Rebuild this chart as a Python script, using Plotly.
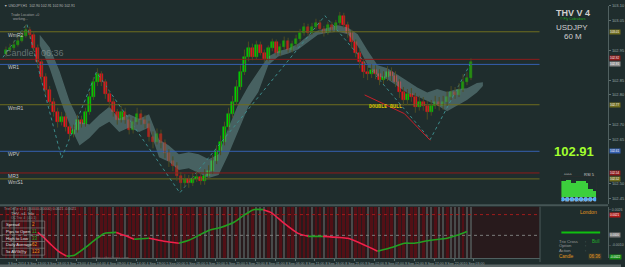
import plotly.graph_objects as go

W, H = 625, 267


def px(x):
    return x / W


def py(y):
    return 1 - y / H


# ------------------------------------------------------------------ data
opens = [102.937, 102.950, 102.960, 102.970, 102.983, 103.000, 103.020, 103.003, 102.960, 102.910,
         102.860, 102.817, 102.777, 102.743, 102.710, 102.727, 102.693, 102.670, 102.683, 102.717,
         102.703, 102.743, 102.793, 102.843, 102.870, 102.843, 102.803, 102.777, 102.743, 102.717,
         102.743, 102.717, 102.683, 102.710, 102.737, 102.717, 102.703, 102.660, 102.643, 102.670,
         102.637, 102.603, 102.577, 102.560, 102.527, 102.503, 102.517, 102.503, 102.517, 102.523,
         102.510, 102.527, 102.543, 102.577, 102.610, 102.643, 102.693, 102.737, 102.777, 102.827,
         102.877, 102.927, 102.960, 102.927, 102.970, 102.943, 102.923, 102.957, 102.977, 102.943,
         102.963, 102.983, 102.953, 102.973, 102.990, 103.010, 103.030, 103.010, 103.030, 103.043,
         103.023, 103.010, 103.037, 103.020, 103.043, 103.067, 103.037, 103.010, 102.977, 102.943,
         102.910, 102.877, 102.870, 102.883, 102.870, 102.850, 102.860, 102.877, 102.863, 102.843,
         102.810, 102.783, 102.803, 102.793, 102.760, 102.777, 102.763, 102.743, 102.763, 102.777,
         102.763, 102.777, 102.793, 102.810, 102.800, 102.817, 102.843, 102.857]
closes = [102.950, 102.960, 102.970, 102.983, 103.000, 103.020, 103.003, 102.960, 102.910, 102.860,
          102.817, 102.777, 102.743, 102.710, 102.727, 102.693, 102.670, 102.683, 102.717, 102.703,
          102.743, 102.793, 102.843, 102.870, 102.843, 102.803, 102.777, 102.743, 102.717, 102.743,
          102.717, 102.683, 102.710, 102.737, 102.717, 102.703, 102.660, 102.643, 102.670, 102.637,
          102.603, 102.577, 102.560, 102.527, 102.503, 102.517, 102.503, 102.517, 102.523, 102.510,
          102.527, 102.543, 102.577, 102.610, 102.643, 102.693, 102.737, 102.777, 102.827, 102.877,
          102.927, 102.960, 102.927, 102.970, 102.943, 102.923, 102.957, 102.977, 102.943, 102.963,
          102.983, 102.953, 102.973, 102.990, 103.010, 103.030, 103.010, 103.030, 103.043, 103.023,
          103.010, 103.037, 103.020, 103.043, 103.067, 103.037, 103.010, 102.977, 102.943, 102.910,
          102.877, 102.870, 102.883, 102.870, 102.850, 102.860, 102.877, 102.863, 102.843, 102.810,
          102.783, 102.803, 102.793, 102.760, 102.777, 102.763, 102.743, 102.763, 102.777, 102.763,
          102.777, 102.793, 102.810, 102.800, 102.817, 102.843, 102.857, 102.910]
highs = [102.963, 102.973, 102.983, 103.000, 103.017, 103.037, 103.030, 103.013, 102.970, 102.920,
         102.873, 102.830, 102.790, 102.757, 102.743, 102.740, 102.703, 102.700, 102.733, 102.730,
         102.757, 102.810, 102.860, 102.890, 102.880, 102.853, 102.817, 102.790, 102.753, 102.763,
         102.757, 102.727, 102.723, 102.757, 102.750, 102.733, 102.713, 102.677, 102.687, 102.683,
         102.650, 102.617, 102.593, 102.573, 102.540, 102.533, 102.530, 102.537, 102.543, 102.540,
         102.550, 102.563, 102.597, 102.630, 102.663, 102.710, 102.757, 102.797, 102.850, 102.900,
         102.953, 102.980, 102.973, 102.983, 102.980, 102.953, 102.967, 102.990, 102.987, 102.973,
         102.997, 102.993, 102.983, 103.003, 103.023, 103.043, 103.040, 103.043, 103.057, 103.053,
         103.033, 103.047, 103.047, 103.053, 103.080, 103.077, 103.047, 103.020, 102.987, 102.957,
         102.920, 102.897, 102.903, 102.900, 102.887, 102.880, 102.897, 102.893, 102.880, 102.853,
         102.827, 102.820, 102.823, 102.807, 102.797, 102.793, 102.780, 102.783, 102.797, 102.793,
         102.797, 102.813, 102.830, 102.827, 102.840, 102.870, 102.877, 102.923]
lows = [102.927, 102.943, 102.950, 102.963, 102.977, 102.993, 102.990, 102.947, 102.893, 102.843,
        102.800, 102.760, 102.727, 102.690, 102.697, 102.677, 102.650, 102.657, 102.673, 102.690,
        102.693, 102.733, 102.783, 102.830, 102.830, 102.787, 102.757, 102.727, 102.700, 102.707,
        102.703, 102.667, 102.670, 102.700, 102.700, 102.687, 102.643, 102.620, 102.633, 102.620,
        102.587, 102.557, 102.543, 102.510, 102.480, 102.490, 102.487, 102.493, 102.507, 102.497,
        102.497, 102.517, 102.533, 102.567, 102.597, 102.630, 102.680, 102.723, 102.767, 102.817,
        102.867, 102.913, 102.917, 102.920, 102.933, 102.910, 102.913, 102.947, 102.933, 102.930,
        102.953, 102.943, 102.943, 102.963, 102.980, 103.000, 103.000, 103.003, 103.020, 103.013,
        102.997, 103.003, 103.010, 103.013, 103.033, 103.027, 102.993, 102.957, 102.927, 102.890,
        102.857, 102.850, 102.857, 102.853, 102.833, 102.837, 102.847, 102.847, 102.827, 102.790,
        102.763, 102.767, 102.777, 102.740, 102.747, 102.747, 102.717, 102.730, 102.753, 102.747,
        102.750, 102.763, 102.783, 102.787, 102.793, 102.810, 102.833, 102.850]

level_names = ["WmR2", "", "WR1", "WmR1", "WPV", "MR3", "WmS1"]
level_values = [103.013, 102.920, 102.903, 102.767, 102.610, 102.537, 102.517]
level_kinds = ["olive", "red", "blue", "olive", "blue", "red", "olive"]

cloud_x = [8.5, 11, 13.5, 16, 18.5, 21, 23.5, 26, 28.5, 31, 33.5, 36, 38.5, 41, 43.5, 46, 48.5, 51,
           53.5, 56, 58.5, 61, 63.5, 66, 68.5, 71, 73.5, 76, 78.5, 81, 83.5, 86, 88.5, 91, 93.5, 96,
           98.5, 101, 103.5, 106, 108.5, 111, 113.5, 116, 118.5, 120]
cloud_top = [103.003, 102.960, 102.880, 102.780, 102.710, 102.700, 102.733, 102.760, 102.720, 102.735,
             102.720, 102.735, 102.650, 102.630, 102.600, 102.607, 102.600, 102.583, 102.600, 102.690,
             102.770, 102.830, 102.880, 102.930, 102.947, 102.957, 102.973, 103.000, 103.017, 103.027,
             103.035, 103.027, 103.005, 102.950, 102.900, 102.890, 102.867, 102.847, 102.825, 102.808,
             102.820, 102.810, 102.820, 102.823, 102.840, 102.843]
cloud_bot = [102.967, 102.890, 102.790, 102.700, 102.630, 102.655, 102.690, 102.710, 102.675, 102.690,
             102.675, 102.690, 102.590, 102.575, 102.547, 102.553, 102.537, 102.520, 102.530, 102.600,
             102.680, 102.760, 102.810, 102.900, 102.930, 102.940, 102.953, 102.977, 103.003, 103.010,
             103.013, 103.005, 102.965, 102.900, 102.863, 102.853, 102.830, 102.807, 102.795, 102.780,
             102.765, 102.745, 102.765, 102.783, 102.808, 102.830]

zigzag_x = [-0.75, 5.25, 14, 22.75, 43.75, 80.25, 106.75, 116.75]
zigzag_y = [102.927, 103.040, 102.587, 102.877, 102.470, 103.067, 102.650, 102.903]

pattern_x = [90.25, 100.25, 106.75]
pattern_y = [102.800, 102.737, 102.647]
pattern_name = "DOUBLE BULL"

osc_x = [8, 9.75, 11.5, 13.5, 15.25, 17.25, 19.75, 22.25, 24.75, 27.75, 29.75, 32.25, 36, 39.75,
         43.5, 46, 48.5, 51, 54, 57.25, 59.75, 62.25, 64.75, 66.75, 69.75, 73.5, 76, 79.75, 83.5,
         86, 89.75, 93.5, 97.25, 100.25, 102.75, 106.75, 111, 113.5, 116]
osc_y = [0.3, -0.3, -1.0, -1.7, -2.1, -2.0, -1.3, -0.5, 0.2, 0.3, 0.0, -0.4, -0.3, -0.6,
         -0.8, -0.5, 0.0, 0.5, 0.8, 1.3, 2.0, 2.6, 2.6, 2.3, 1.3, 0.2, -0.1, -0.1, -0.2,
         -0.3, -0.9, -1.6, -1.2, -0.8, -0.8, -0.5, -0.3, 0.0, 0.4]
osc_levels = [2.1, 0.0]

stripe_state = ("RRGRRRGRRGRRRGRRGRRR" "GRRGRRRGRRGRRRGRRGRR" "RGRRGRRRGRGGRGGRGGRG"
                "GGRGGGRGGRGRRGRRRGRR" "GRRGRRRGRRRGRRGRRRGR" "RGRRGRGGRGGRGGGRGG")

time_labels = ["3 Sep 2014", "3 Sep 13:00", "3 Sep 18:00", "3 Sep 23:00", "4 Sep 04:00", "4 Sep 09:00",
               "4 Sep 14:00", "4 Sep 19:00", "5 Sep 00:00", "5 Sep 05:00", "5 Sep 10:00", "5 Sep 15:00",
               "5 Sep 20:00", "8 Sep 01:00", "8 Sep 06:00", "8 Sep 11:00", "8 Sep 16:00", "8 Sep 21:00",
               "9 Sep 02:00", "9 Sep 07:00", "9 Sep 12:00", "9 Sep 17:00", "9 Sep 22:00", "10 Sep 03:00"]

price_ticks = [103.10, 103.05, 102.95, 102.85, 102.80, 102.70, 102.65, 102.50, 102.45]

rsi_values = [0.82, 0.82, 0.86, 0.86, 0.72, 0.72, 0.78, 0.78, 0.78, 0.78, 0.70, 0.40, 0.40, 0.28]
rsi_dots = 8

info_labels = ["Spread", "Pips to Open", "High to Low", "Daily Average", "5x AVG@y"]
info_values = ["2", "11", "33", "62", "123"]
info_kinds = ["orange", "green", "green", "orange", "orange"]

# ------------------------------------------------------------------ styles
BG = "#1f2d2d"
COL = dict(olive="#6f6d1f", red="#8e1b1b", blue="#3560b0", green="#1fae2a",
           orange="#e0961e", up="#00d000", dn="#f0141e", wick="#4e4c22")
MAIN_DOM = [py(203), py(3)]
LOW_DOM = [py(258), py(206)]
Y_RANGE = [102.4333, 103.10]
Y2_RANGE = [-2.3, 2.9]
X_RANGE = [-1.5, 151.5]
X2_RANGE = [-1.5, 134.25]

idx = list(range(len(closes)))
fig = go.Figure()

# cloud band
fig.add_trace(go.Scatter(x=cloud_x + cloud_x[::-1], y=cloud_top + cloud_bot[::-1], fill="toself",
                         fillcolor="rgba(112,150,150,0.5)", line=dict(width=0), mode="lines",
                         hoverinfo="skip"))
# level lines
for v, k in zip(level_values, level_kinds):
    fig.add_trace(go.Scatter(x=[X_RANGE[0], X2_RANGE[1]], y=[v, v], mode="lines",
                             line=dict(color=COL[k], width=1), hoverinfo="skip"))
# zigzag
fig.add_trace(go.Scatter(x=zigzag_x, y=zigzag_y, mode="lines",
                         line=dict(color="#3d8c8c", width=1, dash="dot"), hoverinfo="skip"))
# pattern
fig.add_trace(go.Scatter(x=pattern_x, y=pattern_y, mode="lines",
                         line=dict(color="#c8202a", width=1), hoverinfo="skip"))
# wicks
wx, wy = [], []
for i, h, l in zip(idx, highs, lows):
    wx += [i, i, None]
    wy += [l, h, None]
fig.add_trace(go.Scatter(x=wx, y=wy, mode="lines", line=dict(color=COL["wick"], width=1),
                         hoverinfo="skip"))
# bodies
body_cols = [COL["up"] if c >= o else COL["dn"] for o, c in zip(opens, closes)]
fig.add_trace(go.Bar(x=idx, y=[c - o for o, c in zip(opens, closes)], base=opens, width=0.65,
                     marker=dict(color=body_cols, line=dict(color=body_cols, width=0.5)),
                     hoverinfo="skip"))

# lower panel stripes
fig.add_trace(go.Bar(x=list(range(len(stripe_state))), y=[Y2_RANGE[1] - Y2_RANGE[0]] * len(stripe_state),
                     base=Y2_RANGE[0], width=[0.7 if s == "R" else 0.3 for s in stripe_state],
                     xaxis="x2", yaxis="y2",
                     marker=dict(color=["rgb(82,16,22)" if s == "R" else "rgb(72,74,74)" for s in stripe_state],
                                 line=dict(width=0)), hoverinfo="skip"))
for lv, c in zip(osc_levels, ["#a01c1c", "#7a7a7a"]):
    fig.add_trace(go.Scatter(x=[X2_RANGE[0], X2_RANGE[1]], y=[lv, lv], mode="lines", xaxis="x2", yaxis="y2",
                             line=dict(color=c, width=1, dash="dot"), hoverinfo="skip"))
# oscillator coloured by slope
groups = []
cur = None
for k in range(len(osc_x) - 1):
    c = "#22a022" if osc_y[k + 1] >= osc_y[k] else "#f0204a"
    if cur is None or cur[0] != c:
        cur = [c, [osc_x[k]], [osc_y[k]]]
        groups.append(cur)
    cur[1].append(osc_x[k + 1])
    cur[2].append(osc_y[k + 1])
for c, gx, gy in groups:
    fig.add_trace(go.Scatter(x=gx, y=gy, mode="lines", xaxis="x2", yaxis="y2",
                             line=dict(color=c, width=1.6, shape="spline", smoothing=0.6), hoverinfo="skip"))

# RSI widget
fig.add_trace(go.Bar(x=list(range(len(rsi_values))), y=rsi_values, width=1.0, xaxis="x3", yaxis="y3",
                     marker=dict(color="#3ccf3c", line=dict(width=0)), hoverinfo="skip"))
span = len(rsi_values) - 1
fig.add_trace(go.Scatter(x=[k * span / (rsi_dots - 1) for k in range(rsi_dots)], y=[-0.13] * rsi_dots,
                         mode="markers", xaxis="x3", yaxis="y3",
                         marker=dict(color="#4aa8ff", size=4, line=dict(color="#a8d8ff", width=0.5)),
                         hoverinfo="skip"))

# ------------------------------------------------------------------ annotations
ann = []


def txt(x, y, s, size, color, anchor="left", family="Liberation Sans", bg=None, yanchor="middle"):
    d = dict(x=px(x), y=py(y), xref="paper", yref="paper", text=s, showarrow=False,
             xanchor=anchor, yanchor=yanchor, font=dict(size=size, color=color, family=family))
    if bg:
        d.update(bgcolor=bg, borderpad=0)
    ann.append(d)


txt(2, 3.5, "▼ USDJPY,H1  102.90 102.91 102.90 102.91", 3.5, "#b8b8b8")
txt(9, 12, "Trade Location +0", 3.5, "#a0a0a0")
txt(11, 16.5, "working...", 3.5, "#a0a0a0")
txt(3, 51, "Candle:  06:36", 9, "rgba(150,162,162,0.6)")
for name, v in zip(level_names, level_values):
    if name:
        ann.append(dict(x=px(6), y=v, xref="paper", yref="y", text=name, showarrow=False,
                        xanchor="left", yanchor="middle", yshift=-3,
                        font=dict(size=5, color="#c8c8c8", family="Liberation Sans")))
ann.append(dict(x=95.5, y=102.763, xref="x", yref="y", text="<b>" + pattern_name + "</b>", showarrow=False,
                xanchor="center", yanchor="middle",
                font=dict(size=5, color="#dcc400", family="DejaVu Sans Mono")))
txt(577, 10, "<b>THV V 4</b>", 9, "#cfcfcf", "center")
txt(577, 16, "© Fly Cobrabars", 3.5, "#22aa22", "center")
txt(576, 24.5, "USDJPY", 8, "#cfcfcf", "center")
txt(577, 34, "60 M", 8, "#cfcfcf", "center")
txt(578, 150, "<b>%.2f</b>" % closes[-1], 13, "#a2ff2e", "center")
txt(593, 173, "RSI 5", 4, "#cccccc", "center")
txt(572, 173, "^^^^", 4, "#cccccc", "center")
txt(582, 200, "0 8 1 8 1 3 6 4 2 0 1", 3, "#9ab0c0", "center")

# right axis price boxes (WR1 box is hidden behind the current-price box in the original)
for name, v, k in zip(level_names, level_values, level_kinds):
    if name == "WR1":
        continue
    ann.append(dict(x=px(612.5), y=v, xref="paper", yref="y", text="%.2f" % v, showarrow=False,
                    xanchor="left", yanchor="middle", bgcolor=COL[k], borderpad=0,
                    yshift=1 if k == "red" and v > 102.9 else 0,
                    font=dict(size=3, color="#ffffff", family="Liberation Sans")))
ann.append(dict(x=px(612.5), y=closes[-1], xref="paper", yref="y", text="%.2f" % closes[-1], showarrow=False,
                xanchor="left", yanchor="middle", bgcolor="#8c8c8c", borderpad=0, yshift=-2,
                font=dict(size=3, color="#ffffff", family="Liberation Sans")))
for lv, c in zip([2.1, 0.0, -2.2], ["#b01818", "#7a7a7a", "#138a13"]):
    ann.append(dict(x=px(612.5), y=lv, xref="paper", yref="y2", text="%.4f" % (lv / 1000), showarrow=False,
                    xanchor="left", yanchor="middle", bgcolor=c, borderpad=0,
                    font=dict(size=3, color="#ffffff", family="Liberation Sans")))

# lower-left info box
txt(2, 208, "TrixOnTp v1.0 (0.0000,0.0000) 0.0021 -0.0021", 3.5, "#9a9a9a")
txt(9, 213, "THV  x4  Info", 4, "#b0b0b0")
txt(9, 217.5, "OC Trix  4  (4,0,1)", 3.2, "#909090")
row_y = [224, 231, 238, 244.5, 251.5]
for lab, val, k, y in zip(info_labels, info_values, info_kinds, row_y):
    txt(4, y, lab, 4.2, "#e0e0e0")
    txt(30, y, val, 4.5, COL[k])
txt(112, 257, "www.cobraforex.com", 4, "#707070", "center")

# lower-right panel
txt(592, 211.5, "London", 5, COL["orange"], "center")
txt(561, 241, "Trix Cross", 4.2, "#9a9a9a")
txt(587, 241, ":", 4.2, "#9a9a9a")
txt(600, 241, "Bull", 4.5, COL["green"], "center")
txt(561, 245.5, "Option", 4.2, "#9a9a9a")
txt(587, 245.5, ":", 4.2, "#9a9a9a")
txt(561, 250, "Action", 4.2, "#9a9a9a")
txt(587, 250, ":", 4.2, "#9a9a9a")
txt(561, 256, "Candle", 4.5, COL["orange"])
txt(599, 256, "06:36", 4.5, COL["orange"], "center", bg="#3a3a2a")

# ------------------------------------------------------------------ shapes (frame / panels)
shapes = [
    dict(type="rect", xref="x2 domain", yref="y2 domain", x0=0, x1=1, y0=0, y1=1,
         fillcolor="rgb(40,26,28)", line=dict(width=0), layer="below"),
    dict(type="rect", xref="x3 domain", yref="y3 domain", x0=0, x1=1, y0=-0.02, y1=1.02,
         fillcolor="#050505", line=dict(color="#404040", width=0.5), layer="below"),
    dict(type="line", xref="paper", yref="paper", x0=0, x1=px(612), y0=py(204.5), y1=py(204.5),
         line=dict(color="#465656", width=2)),
    dict(type="line", xref="paper", yref="paper", x0=px(543.5), x1=px(543.5), y0=py(262), y1=py(206),
         line=dict(color="#4a5a5a", width=1)),
    dict(type="line", xref="paper", yref="paper", x0=px(565), x1=px(604), y0=py(232), y1=py(232),
         line=dict(color="#10c010", width=2)),
    dict(type="rect", xref="paper", yref="paper", x0=px(2), x1=px(45), y0=py(255), y1=py(220.5),
         line=dict(color="#8a8a8a", width=0.6)),
    dict(type="rect", xref="paper", yref="paper", x0=0, x1=1, y0=0, y1=py(264.5),
         fillcolor="#5d6868", line=dict(width=0)),
]
for y in [227.5, 234.5, 241.2, 248]:
    shapes.append(dict(type="line", xref="paper", yref="paper", x0=px(2), x1=px(45), y0=py(y), y1=py(y),
                       line=dict(color="#8a8a8a", width=0.6)))

tick_pos = [2.75 + 5 * k for k in range(len(time_labels))]

fig.update_layout(
    width=W, height=H, margin=dict(l=0, r=0, t=0, b=0),
    paper_bgcolor=BG, plot_bgcolor=BG, showlegend=False, barmode="overlay", bargap=0,
    annotations=ann, shapes=shapes,
    xaxis=dict(domain=[0, px(612)], range=X_RANGE, anchor="y", showticklabels=False, showgrid=False,
               zeroline=False, fixedrange=True),
    yaxis=dict(domain=MAIN_DOM, range=Y_RANGE, anchor="x", side="right", showgrid=False, zeroline=False,
               tickvals=price_ticks, tickformat=".2f", ticks="outside", ticklen=2, tickcolor="#607070",
               showline=True, linecolor="#506060", linewidth=1,
               tickfont=dict(size=4, color="#98a8a8", family="Liberation Sans")),
    xaxis2=dict(domain=[0, px(543)], range=X2_RANGE, anchor="y2", showgrid=False, zeroline=False,
                tickvals=tick_pos, ticktext=time_labels, tickangle=0, ticks="outside", ticklen=2,
                tickcolor="#607070", showline=True, linecolor="#506060",
                tickfont=dict(size=3.5, color="#98a8a8", family="Liberation Sans")),
    yaxis2=dict(domain=LOW_DOM, range=Y2_RANGE, anchor="free", position=px(612), side="right",
                showgrid=False, zeroline=False, showline=True, linecolor="#506060",
                tickvals=[2.6, -1.0], ticktext=["0.0026", "-0.0010"], ticks="outside", ticklen=2,
                tickfont=dict(size=3.5, color="#98a8a8", family="Liberation Sans")),
    xaxis3=dict(domain=[px(565), px(600)], range=[-0.5, len(rsi_values) - 0.5], anchor="y3", visible=False),
    yaxis3=dict(domain=[py(201), py(176)], range=[-0.25, 1.0], anchor="x3", visible=False),
)

fig.write_html("out.html")
